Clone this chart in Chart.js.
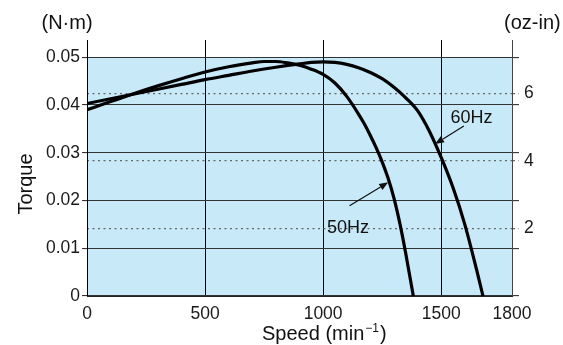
<!DOCTYPE html>
<html>
<head>
<meta charset="utf-8">
<script src="https://cdn.jsdelivr.net/npm/chart.js@4.4.1/dist/chart.umd.min.js"></script>
<style>
  html, body { margin: 0; padding: 0; background: #fff; }
  #wrap { width: 563px; height: 345px; }
</style>
</head>
<body>
<div id="wrap"><canvas id="c" width="563" height="345"></canvas></div>
<script>
// Speed–torque characteristics (N·m against min⁻¹)
const speed50  = [0, 100, 200, 300, 400, 500, 600, 700, 750, 800, 850, 900, 950, 1000, 1050, 1100, 1150, 1175, 1200, 1225, 1250, 1275, 1300, 1325, 1350, 1382];
const torque50 = [0.0390, 0.0407, 0.0424, 0.0440, 0.0455, 0.0469, 0.0480, 0.0488, 0.0491, 0.0491, 0.0488, 0.0483, 0.0475, 0.0464, 0.0446, 0.0418, 0.0381, 0.0360, 0.0336, 0.0310, 0.0281, 0.0247, 0.0205, 0.0152, 0.0089, 0];

const speed60  = [0, 100, 200, 300, 400, 500, 600, 700, 800, 900, 950, 1000, 1050, 1100, 1150, 1200, 1250, 1300, 1350, 1400, 1450, 1500, 1550, 1600, 1650, 1677];
const torque60 = [0.0403, 0.0413, 0.0423, 0.0433, 0.0443, 0.0453, 0.0462, 0.0471, 0.0479, 0.0486, 0.0489, 0.0490, 0.0489, 0.0485, 0.0478, 0.0468, 0.0455, 0.0437, 0.0415, 0.0388, 0.0345, 0.0290, 0.0227, 0.0150, 0.0055, 0];

const speedTicks  = [0, 500, 1000, 1500, 1800];
const torqueTicks = [0, 0.01, 0.02, 0.03, 0.04, 0.05];
const ozTicks     = [2, 4, 6];

const NM_PER_OZIN = 0.00706155;
const SPEED_MAX = 1800;
const TORQUE_RANGE = 0.05;      // shaded operating band
const TORQUE_TOP = 0.0536;      // headroom so the vertical rules run above the band
const FONT = "'Liberation Sans', Arial, Helvetica, sans-serif";

const arrowNotes = [
  { text: '60Hz', at: [1539, 0.0363], from: [1596, 0.0356], to: [1474, 0.0318] },
  { text: '50Hz', at: [1016, 0.0132], from: [1112, 0.0189], to: [1276, 0.0238] }
];

const toPoints = (xs, ys) => xs.map((v, i) => ({ x: v, y: ys[i] }));

function drawArrow(ctx, x1, y1, x2, y2) {
  const ang = Math.atan2(y2 - y1, x2 - x1);
  const head = 9, half = 3.6;
  const bx = x2 - head * Math.cos(ang), by = y2 - head * Math.sin(ang);
  ctx.beginPath();
  ctx.moveTo(x1, y1);
  ctx.lineTo(bx, by);
  ctx.lineWidth = 1.2;
  ctx.strokeStyle = '#111';
  ctx.stroke();
  ctx.beginPath();
  ctx.moveTo(x2, y2);
  ctx.lineTo(bx + half * Math.sin(ang), by - half * Math.cos(ang));
  ctx.lineTo(bx - half * Math.sin(ang), by + half * Math.cos(ang));
  ctx.closePath();
  ctx.fillStyle = '#111';
  ctx.fill();
}

const decor = {
  id: 'decor',
  afterDraw(chart) {
    const { ctx, scales: { x, y } } = chart;
    ctx.save();
    ctx.fillStyle = '#111';
    ctx.textBaseline = 'alphabetic';
    ctx.textAlign = 'left';
    ctx.font = `20px ${FONT}`;
    ctx.fillText('(N·m)', 41.5, 28.5);
    ctx.fillText('(oz-in)', 504, 28.5);

    // horizontal axis title with superscript exponent
    let tx = 262;
    const base = 339.5;
    ctx.fillText('Speed (min', tx, base);
    tx += ctx.measureText('Speed (min').width + 1;
    ctx.font = `12px ${FONT}`;
    ctx.fillText('\u22121', tx, base - 8);
    tx += ctx.measureText('\u22121').width + 1;
    ctx.font = `20px ${FONT}`;
    ctx.fillText(')', tx, base);

    // vertical axis title
    ctx.save();
    ctx.translate(31.5, 184);
    ctx.rotate(-Math.PI / 2);
    ctx.textAlign = 'center';
    ctx.fillText('Torque', 0, 0);
    ctx.restore();

    // frequency call-outs
    ctx.font = `18px ${FONT}`;
    arrowNotes.forEach(n => {
      ctx.fillStyle = '#111';
      ctx.fillText(n.text, x.getPixelForValue(n.at[0]), y.getPixelForValue(n.at[1]));
      drawArrow(ctx,
        x.getPixelForValue(n.from[0]), y.getPixelForValue(n.from[1]),
        x.getPixelForValue(n.to[0]), y.getPixelForValue(n.to[1]));
    });
    ctx.restore();
  }
};

const curveStyle = {
  borderColor: '#000',
  borderWidth: 3.2,
  pointRadius: 0,
  fill: false,
  cubicInterpolationMode: 'monotone',
  borderCapStyle: 'butt',
  borderJoinStyle: 'round'
};

new Chart(document.getElementById('c'), {
  type: 'line',
  data: {
    datasets: [
      { label: '50Hz', data: toPoints(speed50, torque50), ...curveStyle },
      { label: '60Hz', data: toPoints(speed60, torque60), ...curveStyle },
      {
        label: 'band',
        data: [{ x: 0, y: TORQUE_RANGE }, { x: SPEED_MAX, y: TORQUE_RANGE }],
        borderWidth: 0,
        pointRadius: 0,
        fill: 'origin',
        backgroundColor: 'rgb(200,233,248)'
      }
    ]
  },
  options: {
    responsive: false,
    animation: false,
    devicePixelRatio: 1,
    layout: { padding: { top: 40, left: 0, right: 0, bottom: 0 } },
    plugins: {
      legend: { display: false },
      tooltip: { enabled: false },
      filler: { drawTime: 'beforeDraw' }
    },
    scales: {
      x: {
        type: 'linear',
        min: 0,
        max: SPEED_MAX,
        afterBuildTicks: s => { s.ticks = speedTicks.map(v => ({ value: v })); },
        afterFit: s => { s.height = 49; },
        grid: {
          color: c => (c.tick && (c.tick.value === 0 || c.tick.value === SPEED_MAX)) ? 'rgba(0,0,0,0)' : '#000',
          lineWidth: 1,
          drawTicks: false
        },
        border: { color: '#222', width: 1 },
        ticks: {
          padding: 8,
          maxRotation: 0,
          autoSkip: false,
          color: '#1a1a1a',
          font: { family: FONT, size: 17.5 },
          callback: v => String(v)
        }
      },
      y: {
        type: 'linear',
        position: 'left',
        min: 0,
        max: TORQUE_TOP,
        afterBuildTicks: s => { s.ticks = torqueTicks.map(v => ({ value: v })); },
        afterFit: s => { s.width = 87; },
        grid: { color: '#333', lineWidth: 1.1, tickLength: 5, tickColor: '#333' },
        border: { color: '#000', width: 1 },
        ticks: {
          padding: 2,
          color: '#1a1a1a',
          font: { family: FONT, size: 17.5 },
          callback: v => (v === 0 ? '0' : v.toFixed(2))
        }
      },
      y2: {
        type: 'linear',
        position: 'right',
        min: 0,
        max: TORQUE_TOP / NM_PER_OZIN,
        afterBuildTicks: s => {
          const solid = torqueTicks.map(v => ({ value: v / NM_PER_OZIN, kind: 'nm' }));
          const dotted = ozTicks.map(v => ({ value: v, kind: 'oz' }));
          s.ticks = solid.concat(dotted).sort((a, b) => a.value - b.value);
        },
        afterFit: s => { s.width = 51; },
        grid: {
          color: c => (c.tick && c.tick.kind === 'oz') ? '#666' : 'rgba(0,0,0,0)',
          lineWidth: 1.2,
          tickLength: 7,
          tickColor: c => (c.tick && c.tick.kind === 'oz') ? '#666' : '#333',
          tickWidth: 1.1,
          tickBorderDash: c => (c.tick && c.tick.kind === 'oz') ? [2, 3.5] : []
        },
        border: { color: '#444', width: 1, dash: [2, 3.5] },
        ticks: {
          padding: 5,
          color: '#1a1a1a',
          font: { family: FONT, size: 17.5 },
          callback: function (v, i, ticks) {
            return ticks[i].kind === 'oz' ? String(Math.round(v)) : '';
          }
        }
      }
    }
  },
  plugins: [decor]
});
</script>
</body>
</html>
